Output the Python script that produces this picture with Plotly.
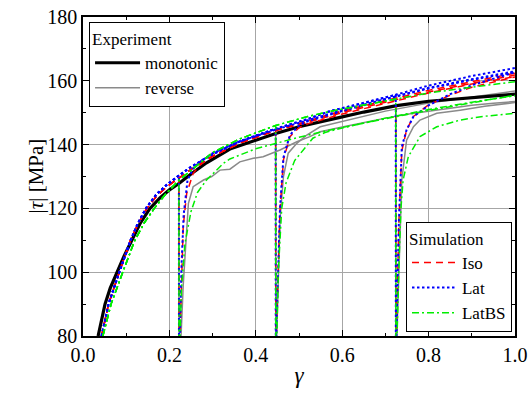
import plotly.graph_objects as go

# ---------------- data ----------------
EXP_MONO_G = [0.035, 0.043, 0.051, 0.063, 0.078, 0.095, 0.113, 0.133, 0.155, 0.178, 0.2, 0.222,
              0.25, 0.286, 0.34, 0.4, 0.446, 0.5, 0.549, 0.6, 0.65, 0.726, 0.8, 0.9, 1.0]
EXP_MONO_T = [80, 85, 90, 95, 100, 105, 110, 115.5, 120, 123.3, 125.8, 127.8,
              130.8, 134.3, 138.6, 141.5, 143.5, 145.6, 147.2, 148.7, 150.2, 152.2, 153.6, 154.8, 155.8]

EXP_REV1_G = [0.222, 0.2222, 0.227, 0.232, 0.236, 0.244, 0.255, 0.279, 0.298, 0.317, 0.34, 0.363,
              0.394, 0.417, 0.456, 0.495, 0.525, 0.549, 0.6, 0.65, 0.7, 0.75, 0.8, 0.85, 0.9, 0.95, 1.0]
EXP_REV1_T = [127.8, 70, 80, 96, 104, 121.6, 126.8, 128.9, 130, 132, 132.3, 134.6,
              135.7, 136.2, 138.3, 140.9, 142.5, 144, 145.5, 147, 148.3, 149.5, 150.5, 151.5, 152.3, 153, 153.5]
EXP_REV2_G = [0.446, 0.4462, 0.451, 0.456, 0.464, 0.475, 0.495, 0.518, 0.549, 0.6, 0.65, 0.7, 0.8, 0.9, 1.0]
EXP_REV2_T = [143.5, 70, 95, 116.4, 130, 137.3, 140.4, 143, 145.6, 147.3, 148.8, 150.5, 153, 155, 156.8]
EXP_REV3_G = [0.724, 0.7242, 0.729, 0.733, 0.738, 0.749, 0.765, 0.78, 0.819, 0.873, 0.93, 1.0]
EXP_REV3_T = [152.2, 70, 90, 112, 128.9, 141.4, 145.6, 147.7, 149.8, 150.8, 152, 153.2]

SIM_MONO_G = [0.043, 0.059, 0.084, 0.11, 0.127, 0.147, 0.17, 0.194, 0.222, 0.25, 0.3, 0.363,
              0.446, 0.52, 0.572, 0.65, 0.726, 0.8, 0.9, 1.0]
ISO_MONO_T = [80, 90, 100, 110, 115, 119.8, 123.8, 126.8, 129.5, 132.2, 136.3, 140.5,
              144.6, 147.3, 149.5, 152.2, 154.6, 157, 159.8, 162.4]
LAT_MONO_T = [80, 90, 100, 110, 115.3, 120.3, 124.4, 127.4, 130.3, 133, 137, 141,
              145, 148, 150.5, 153, 155.7, 158.5, 161.5, 164]
LATBS_MONO_G = [0.046, 0.065, 0.092, 0.12, 0.142, 0.165, 0.19, 0.21, 0.222, 0.26, 0.3, 0.363,
                0.446, 0.52, 0.572, 0.65, 0.726, 0.8, 0.9, 1.0]
LATBS_MONO_T = [80, 90, 100, 110, 115.5, 120, 124.3, 127.2, 128.8, 133, 137.5, 141.8,
                146, 148.8, 150.4, 152.4, 154.3, 156.2, 158, 159.7]

ISO_REV1_G = [0.222, 0.2222, 0.2245, 0.228, 0.232, 0.24, 0.255, 0.27, 0.3, 0.363, 0.446, 0.52, 0.6, 0.7, 0.8, 0.9, 1.0]
ISO_REV1_T = [129.5, 70, 80, 100, 114.3, 124.7, 131, 133.5, 136.5, 140.5, 144.3, 147, 150, 153.3, 156.5, 159.2, 161.8]
ISO_REV2_G = [0.446, 0.4462, 0.4485, 0.452, 0.456, 0.464, 0.479, 0.5, 0.52, 0.6, 0.7, 0.8, 0.9, 1.0]
ISO_REV2_T = [144.6, 70, 85, 105, 119.5, 135.2, 142.5, 145.3, 146.5, 149.6, 153, 156.2, 159, 161.3]
ISO_REV3_G = [0.724, 0.7242, 0.7265, 0.731, 0.738, 0.749, 0.765, 0.8, 0.85, 0.9, 1.0]
ISO_REV3_T = [154.5, 70, 85, 115, 138, 144.6, 148.8, 152.5, 155.5, 158, 161.2]

LAT_REV1_G = [0.222, 0.2222, 0.2245, 0.228, 0.233, 0.242, 0.255, 0.27, 0.3, 0.363, 0.446, 0.52, 0.6, 0.7, 0.8, 0.9, 1.0]
LAT_REV1_T = [130.3, 70, 80, 102, 118, 128.9, 132.5, 134.5, 137.3, 141, 144.7, 147.7, 150.8, 154.3, 157.8, 160.5, 163]
LAT_REV2_G = [0.446, 0.4462, 0.4485, 0.452, 0.456, 0.464, 0.479, 0.5, 0.52, 0.6, 0.7, 0.8, 0.9, 1.0]
LAT_REV2_T = [145, 70, 85, 105, 120, 136, 143, 146, 147.3, 150.5, 154.2, 157.6, 160.3, 162.7]
LAT_REV3_G = [0.724, 0.7242, 0.7265, 0.731, 0.738, 0.749, 0.765, 0.8, 0.85, 0.9, 1.0]
LAT_REV3_T = [155.6, 70, 85, 115, 139.3, 144.6, 148.8, 152.3, 155.8, 158.6, 162.7]

LATBS_REV1_G = [0.222, 0.2222, 0.2248, 0.228, 0.236, 0.25, 0.265, 0.286, 0.325, 0.34, 0.402, 0.45,
                0.5, 0.572, 0.65, 0.726, 0.8, 0.9, 1.0]
LATBS_REV1_T = [128.8, 70, 80, 95, 109, 119, 125, 128.9, 134.1, 135.5, 138.8, 140.5,
                142.3, 144.6, 146.8, 148.8, 150.7, 153, 155.5]
LATBS_REV2_G = [0.446, 0.4462, 0.4488, 0.452, 0.46, 0.47, 0.49, 0.532, 0.56, 0.6, 0.7, 0.8, 0.9, 1.0]
LATBS_REV2_T = [146, 70, 80, 100, 120, 128, 135, 142, 143.8, 145.2, 148.3, 151, 153.3, 155.3]
LATBS_REV3_G = [0.724, 0.7242, 0.727, 0.732, 0.736, 0.741, 0.753, 0.78, 0.819, 0.873, 0.93, 1.0]
LATBS_REV3_T = [154.3, 70, 80, 105, 120, 128.9, 136.2, 142.5, 145.6, 147.7, 148.9, 149.8]

X_TICKS = [0.0, 0.2, 0.4, 0.6, 0.8, 1.0]
X_TICK_TEXT = ["0.0", "0.2", "0.4", "0.6", "0.8", "1.0"]
Y_TICKS = [80, 100, 120, 140, 160, 180]

FONT = "Times New Roman"


def rev_curve(mono_g, mono_t, tail_g, tail_t):
    gr = tail_g[0]
    g = [a for a in mono_g if a < gr] + list(tail_g)
    t = [b for a, b in zip(mono_g, mono_t) if a < gr] + list(tail_t)
    return g, t


fig = go.Figure()

exp_tails = [(EXP_REV1_G, EXP_REV1_T), (EXP_REV2_G, EXP_REV2_T), (EXP_REV3_G, EXP_REV3_T)]
for i, (tg, tt) in enumerate(exp_tails):
    g, t = rev_curve(EXP_MONO_G, EXP_MONO_T, tg, tt)
    fig.add_trace(go.Scatter(x=g, y=t, mode="lines", name="reverse",
                             line=dict(color="#8a8a8a", width=1.5),
                             legend="legend", legendgroup="rev", legendrank=2,
                             showlegend=(i == 0)))

fig.add_trace(go.Scatter(x=EXP_MONO_G, y=EXP_MONO_T, mode="lines", name="monotonic",
                         line=dict(color="black", width=3.2),
                         legend="legend", legendrank=1))

models = [
    ("Iso", "#ff0000", "7px,5px", 1.5, SIM_MONO_G, ISO_MONO_T,
     [(ISO_REV1_G, ISO_REV1_T), (ISO_REV2_G, ISO_REV2_T), (ISO_REV3_G, ISO_REV3_T)]),
    ("Lat", "#0000ff", "2.5px,2.5px", 2.0, SIM_MONO_G, LAT_MONO_T,
     [(LAT_REV1_G, LAT_REV1_T), (LAT_REV2_G, LAT_REV2_T), (LAT_REV3_G, LAT_REV3_T)]),
    ("LatBS", "#00ee00", "7px,3px,2px,3px", 1.5, LATBS_MONO_G, LATBS_MONO_T,
     [(LATBS_REV1_G, LATBS_REV1_T), (LATBS_REV2_G, LATBS_REV2_T), (LATBS_REV3_G, LATBS_REV3_T)]),
]

for rank, (name, color, dash, width, mg, mt, tails) in enumerate(models):
    fig.add_trace(go.Scatter(x=mg, y=mt, mode="lines", name=name,
                             line=dict(color=color, width=width, dash=dash),
                             legend="legend2", legendgroup=name, legendrank=rank + 1))
    for tg, tt in tails:
        g, t = rev_curve(mg, mt, tg, tt)
        fig.add_trace(go.Scatter(x=g, y=t, mode="lines", name=name,
                                 line=dict(color=color, width=width, dash=dash),
                                 legend="legend2", legendgroup=name, showlegend=False))

axis_common = dict(
    showline=True, linecolor="black", linewidth=1.5, mirror="ticks",
    ticks="inside", ticklen=6, tickwidth=1.2, tickcolor="black",
    showgrid=True, gridcolor="#a6a6a6", gridwidth=1,
    zeroline=False, automargin=False, ticklabeloverflow="allow",
    tickfont=dict(family=FONT, size=20, color="black"),
)

fig.update_xaxes(range=[0, 1.0], tickvals=X_TICKS, ticktext=X_TICK_TEXT,
                 minor=dict(ticks="inside", ticklen=3, dtick=0.1, tick0=0, tickcolor="black", showgrid=False),
                 title=dict(text="<i>γ</i>", font=dict(family=FONT, size=23, color="black"), standoff=2),
                 **axis_common)
fig.update_yaxes(range=[80, 180], tickvals=Y_TICKS,
                 minor=dict(ticks="inside", ticklen=3, dtick=10, tick0=80, tickcolor="black", showgrid=False),
                 **axis_common)

# y-axis title placed as a rotated annotation for exact positioning
fig.add_annotation(text="|<i>τ</i>| [MPa]", textangle=-90, showarrow=False,
                   xref="paper", yref="paper", x=0, y=0.5, xanchor="center", yanchor="middle",
                   xshift=-48, font=dict(family=FONT, size=21, color="black"))

legend_common = dict(bgcolor="white", bordercolor="black", borderwidth=1,
                     font=dict(family=FONT, size=17, color="black"),
                     traceorder="normal", tracegroupgap=0, itemwidth=45)

fig.update_layout(
    width=529, height=394,
    margin=dict(l=83, r=14, t=17, b=58),
    paper_bgcolor="white", plot_bgcolor="white",
    legend=dict(x=0.014, y=0.984, xanchor="left", yanchor="top",
                title=dict(text="Experiment", font=dict(family=FONT, size=17, color="black")),
                **legend_common),
    legend2=dict(x=0.993, y=0.013, xanchor="right", yanchor="bottom",
                 title=dict(text="Simulation", font=dict(family=FONT, size=17, color="black")),
                 **legend_common),
)

fig.write_html("out.html", config={"displayModeBar": False},
               post_script="document.body.style.margin='0';")
